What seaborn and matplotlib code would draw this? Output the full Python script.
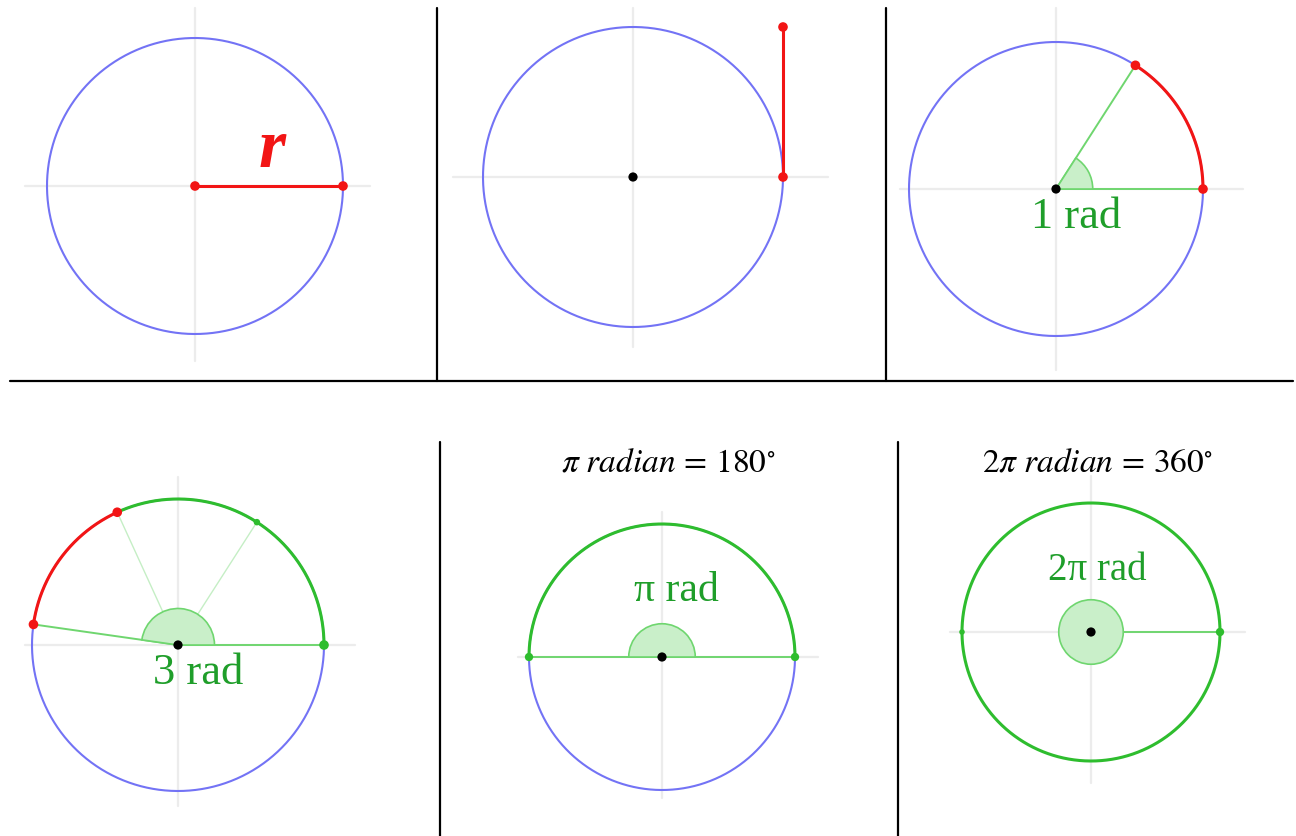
import numpy as np
import seaborn as sns
import matplotlib.pyplot as plt
from matplotlib.patches import Wedge

sns.set_theme(style='white')
plt.rcParams['mathtext.fontset'] = 'stix'

# Angles (rad) shown in each panel
rad_1 = 1.0
rad_3 = 3.0
rad_pi = np.pi
rad_2pi = 2 * np.pi

# Panel layout in pixels: center x, center y, radius
centers_x = [195, 633, 1056, 178, 662, 1091]
centers_y = [186, 177, 189, 645, 657, 632]
radii = [148, 150, 147, 146, 133, 129]
# grey axis extents (in radius units): left, right, up, down
axis_ext = [(1.15, 1.18, 1.20, 1.18), (1.2, 1.3, 1.13, 1.13), (1.06, 1.27, 1.23, 1.23),
            (1.05, 1.21, 1.15, 1.10), (1.08, 1.17, 1.09, 1.06), (1.09, 1.19, 1.21, 1.17)]

BLUE = '#7373f5'
RED = '#f21515'
GREEN = '#2ebd2e'
LGREEN = '#6fd66f'
FILL = '#c9efc9'
TGREEN = '#1f9e2a'
GREY = '#ececec'

W, H = 1296, 836
S = 215
fig = plt.figure(figsize=(W / 100, H / 100), dpi=100)

# background axes for the separators
bg = fig.add_axes([0, 0, 1, 1])
bg.set_xlim(0, W)
bg.set_ylim(H, 0)
bg.axis('off')
bg.plot([10, 1293], [381, 381], color='black', lw=1.6)
bg.plot([437, 437], [8, 381], color='black', lw=1.6)
bg.plot([886, 886], [8, 381], color='black', lw=1.6)
bg.plot([440, 440], [442, 836], color='black', lw=1.6)
bg.plot([898, 898], [442, 836], color='black', lw=1.6)


def make_ax(i):
    cx, cy, r = centers_x[i], centers_y[i], radii[i]
    ax = fig.add_axes([(cx - S) / W, (H - cy - S) / H, 2 * S / W, 2 * S / H])
    ax.set_xlim(-S / r, S / r)
    ax.set_ylim(-S / r, S / r)
    ax.axis('off')
    ax.patch.set_alpha(0)
    l, rr, u, d = axis_ext[i]
    ax.plot([-l, rr], [0, 0], color=GREY, lw=1.6, zorder=0)
    ax.plot([0, 0], [-d, u], color=GREY, lw=1.6, zorder=0)
    return ax


def arc(ax, a0, a1, color, lw=1.5, rad=1.0):
    t = np.linspace(a0, a1, 300)
    sns.lineplot(x=rad * np.cos(t), y=rad * np.sin(t), sort=False, estimator=None,
                 color=color, linewidth=lw, ax=ax)


def radius_line(ax, a, color, lw=1.4, alpha=1.0):
    sns.lineplot(x=[0, np.cos(a)], y=[0, np.sin(a)], sort=False, estimator=None,
                 color=color, linewidth=lw, alpha=alpha, ax=ax)


def dots(ax, angles, color, s=48, rad=1.0):
    sns.scatterplot(x=rad * np.cos(angles), y=rad * np.sin(angles), color=color,
                    s=s, edgecolor='none', zorder=5, ax=ax)


def center(ax):
    sns.scatterplot(x=[0], y=[0], color='black', s=44, edgecolor='none', zorder=6, ax=ax)


def wedge(ax, a1):
    ax.add_patch(Wedge((0, 0), 0.25, 0, np.degrees(a1), facecolor=FILL,
                       edgecolor=LGREEN, lw=1.2, zorder=3))


txt_font = ['Liberation Serif', 'DejaVu Serif']

# Panel 1: radius r
ax = make_ax(0)
arc(ax, 0, 2 * np.pi, BLUE)
radius_line(ax, 0, RED, lw=2.2)
dots(ax, np.array([0.0]), RED)
sns.scatterplot(x=[0], y=[0], color=RED, s=48, edgecolor='none', zorder=5, ax=ax)
ax.text(0.52, 0.24, 'r', color=RED, fontsize=50, fontstyle='italic',
        fontweight='bold', family=txt_font, ha='center', va='center')

# Panel 2: radius laid along the circle as a tangent
ax = make_ax(1)
arc(ax, 0, 2 * np.pi, BLUE)
sns.lineplot(x=[1, 1], y=[0, 1], sort=False, estimator=None, color=RED,
             linewidth=2.2, ax=ax)
sns.scatterplot(x=[1, 1], y=[0, 1], color=RED, s=48, edgecolor='none', zorder=5, ax=ax)
center(ax)

# Panel 3: 1 rad
ax = make_ax(2)
arc(ax, 0, 2 * np.pi, BLUE)
arc(ax, 0, rad_1, RED, lw=2.2)
radius_line(ax, 0, LGREEN)
radius_line(ax, rad_1, LGREEN)
wedge(ax, rad_1)
dots(ax, np.array([0, rad_1]), RED)
center(ax)
ax.text(0.14, -0.19, '1 rad', color=TGREEN, fontsize=32, family=txt_font,
        ha='center', va='center')

# Panel 4: 3 rad
ax = make_ax(3)
arc(ax, 0, 2 * np.pi, BLUE)
arc(ax, 0, 2.0, GREEN, lw=2.2)
arc(ax, 2.0, rad_3, RED, lw=2.2)
radius_line(ax, 1.0, LGREEN, lw=1.0, alpha=0.4)
radius_line(ax, 2.0, LGREEN, lw=1.0, alpha=0.4)
radius_line(ax, 0, LGREEN)
radius_line(ax, rad_3, LGREEN)
wedge(ax, rad_3)
dots(ax, np.array([0.0]), GREEN)
dots(ax, np.array([1.0]), GREEN, s=22)
dots(ax, np.array([2.0, rad_3]), RED)
center(ax)
ax.text(0.14, -0.19, '3 rad', color=TGREEN, fontsize=32, family=txt_font,
        ha='center', va='center')

# Panel 5: pi rad
ax = make_ax(4)
arc(ax, 0, 2 * np.pi, BLUE)
arc(ax, 0, rad_pi, GREEN, lw=2.2)
radius_line(ax, 0, LGREEN)
radius_line(ax, rad_pi, LGREEN)
wedge(ax, rad_pi)
dots(ax, np.array([0, rad_pi]), GREEN, s=36)
center(ax)
ax.text(0.11, 0.5, 'π rad', color=TGREEN, fontsize=30, family=txt_font,
        ha='center', va='center')

# Panel 6: 2 pi rad
ax = make_ax(5)
arc(ax, 0, rad_2pi, GREEN, lw=2.2)
radius_line(ax, 0, LGREEN)
wedge(ax, rad_2pi)
dots(ax, np.array([0.0]), GREEN, s=36)
dots(ax, np.array([rad_pi]), GREEN, s=16)
center(ax)
ax.text(0.05, 0.48, '2π rad', color=TGREEN, fontsize=28, family=txt_font,
        ha='center', va='center')

# titles of the bottom panels
bg.text(668, 462, r'$\pi\ radian\, =\, 180^{\circ}$', fontsize=24,
        ha='center', va='center', color='black')
bg.text(1098, 462, r'$2\pi\ radian\, =\, 360^{\circ}$', fontsize=24,
        ha='center', va='center', color='black')

fig.savefig('out.png', dpi=100, facecolor='white')
